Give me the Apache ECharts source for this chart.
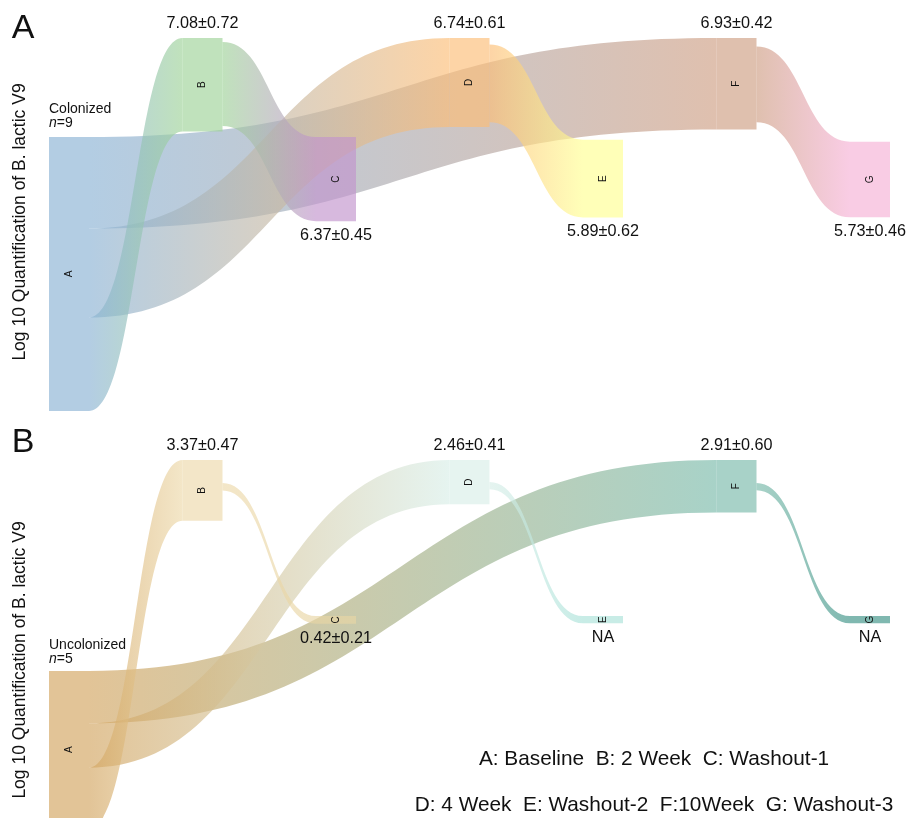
<!DOCTYPE html>
<html><head><meta charset="utf-8">
<script src="https://cdn.jsdelivr.net/npm/echarts@6/dist/echarts.min.js"></script>
<style>html,body{margin:0;padding:0;background:#fff}#c{width:910px;height:818px}</style>
</head><body><div id="c"></div><script>
// ---------- data ----------
const stages = ['A', 'B', 'C', 'D', 'E', 'F', 'G'];
const legendLines = ['A: Baseline  B: 2 Week  C: Washout-1', 'D: 4 Week  E: Washout-2  F:10Week  G: Washout-3'];
// Log10 quantification, mean and SD per stage (A = baseline, no value shown)
const colonizedMean = [null, 7.08, 6.37, 6.74, 5.89, 6.93, 5.73];
const colonizedSD   = [null, 0.72, 0.45, 0.61, 0.62, 0.42, 0.46];
const uncolonizedMean = [null, 3.37, 0.42, 2.46, null, 2.91, null];
const uncolonizedSD   = [null, 0.47, 0.21, 0.41, null, 0.60, null];
const naBandValue = 0.4;           // thin band drawn where the value is NA
// flows out of A listed first, in their top-to-bottom order on node A
const flows = [['A', 'F'], ['A', 'D'], ['A', 'B'], ['B', 'C'], ['D', 'E'], ['F', 'G']];
const groupTitles = [['Colonized', 'n=9'], ['Uncolonized', 'n=5']];
const yTitle = 'Log 10 Quantification of B. lactic V9';

// ---------- layout / style ----------
const FONT = '"Liberation Sans", Arial, Helvetica, sans-serif';
const LEFT = 49, WIDTH = 841, NODE_W = 40, ALPHA = 0.65;
const panels = [
  { mean: colonizedMean, sd: colonizedSD, top: 38, height: 373,
    spacer: [7.5, 0, 7.5, 0, 7.7, 0, 7.85],
    exitOffset: { B: 0.3, D: 0.5, F: 0.65 },
    colors: ['#8ab2d4', '#9ed298', '#c193cc', '#fcbd76', '#ffff92', '#ce9e83', '#f6b1d6'],
    letter: 'A', letterY: 29, titleY: 222, groupY: 109 },
  { mean: uncolonizedMean, sd: uncolonizedSD, top: 460, height: 368.3,
    spacer: [11.72, 0, 8.67, 0, 8.67, 0, 8.67],
    exitOffset: { B: 1.28, D: 1.22, F: 1.28 },
    colors: ['#d2a45f', '#edd9aa', '#e8d5a4', '#d8eee8', '#aae2d9', '#79baaa', '#3c9286'],
    letter: 'B', letterY: 443, titleY: 660, groupY: 645 }
];

function flowValue(p, target) {
  const v = p.mean[stages.indexOf(target)];
  return v == null ? naBandValue : v;
}
function nodeValue(p, i) {
  if (i === 0) return flows.filter(function (f) { return f[0] === 'A'; })
    .reduce(function (s, f) { return s + flowValue(p, f[1]); }, 0);
  return flowValue(p, stages[i]);
}

function buildSeries(p) {
  const nodes = [], links = [];
  stages.forEach(function (s, i) {
    if (p.spacer[i] > 0) nodes.push({ name: 'sp' + i, depth: i, value: p.spacer[i],
      itemStyle: { opacity: 0 }, label: { show: false } });
    nodes.push({ name: s, depth: i, itemStyle: { color: p.colors[i], opacity: ALPHA } });
  });
  flows.forEach(function (f) {
    const off = p.exitOffset[f[0]];
    if (off) {
      links.push({ source: f[0], target: 'sp' + stages.indexOf(f[1]), value: off, lineStyle: { opacity: 0 } });
    }
    links.push({ source: f[0], target: f[1], value: flowValue(p, f[1]) });
  });
  return {
    type: 'sankey', left: LEFT, top: p.top, width: WIDTH, height: p.height,
    nodeWidth: NODE_W, nodeGap: 0, layoutIterations: 0, nodeAlign: 'left', draggable: false,
    silent: true, emphasis: { disabled: true }, z: 2,
    data: nodes, links: links,
    itemStyle: { borderWidth: 0 },
    lineStyle: { color: 'gradient', opacity: ALPHA, curveness: 0.5 },
    label: { show: true, position: 'inside', rotate: 90, fontSize: 10, color: '#111', fontFamily: FONT }
  };
}

function text(x, y, str, size, extra, el) {
  return Object.assign({ type: 'text', x: x, y: y, silent: true, z: 100,
    style: Object.assign({ text: str, fontSize: size, fontFamily: FONT, fill: '#111',
      align: 'center', textAlign: 'center', verticalAlign: 'middle', textVerticalAlign: 'middle' }, extra || {}) }, el || {});
}

const graphics = [];
panels.forEach(function (p) {
  const ky = p.height / (p.spacer[0] + nodeValue(p, 0));
  const kx = (WIDTH - NODE_W) / (stages.length - 1);
  for (let i = 1; i < stages.length; i++) {
    const cx = LEFT + i * kx + NODE_W / 2;
    const topY = p.top + p.spacer[i] * ky;
    const botY = topY + nodeValue(p, i) * ky;
    const str = p.mean[i] == null ? 'NA' : p.mean[i].toFixed(2) + '\u00b1' + p.sd[i].toFixed(2);
    const y = (i % 2 === 1) ? topY - 14 : botY + 14.5;
    graphics.push(text(cx, y, str, 16.2));
  }
  graphics.push(text(23, p.letterY, p.letter, 34));
  graphics.push(text(20, p.titleY, yTitle, 17.5, null, { rotation: Math.PI / 2 }));
});
groupTitles.forEach(function (g, k) {
  const y = panels[k].groupY;
  graphics.push(text(LEFT, y, g[0], 14, { align: 'left', textAlign: 'left' }));
  graphics.push(text(LEFT, y + 14.5, '{i|n}' + g[1].slice(1), 14,
    { align: 'left', textAlign: 'left', rich: { i: { fontStyle: 'italic', fontSize: 14, fontFamily: FONT } } }));
});
graphics.push(text(654, 759.5, legendLines[0], 20.8));
graphics.push(text(654, 805.5, legendLines[1], 20.8));

const chart = echarts.init(document.getElementById('c'), null, { renderer: 'canvas' });
chart.setOption({
  animation: false,
  backgroundColor: '#ffffff',
  series: panels.map(buildSeries),
  graphic: { elements: graphics }
});
</script></body></html>
